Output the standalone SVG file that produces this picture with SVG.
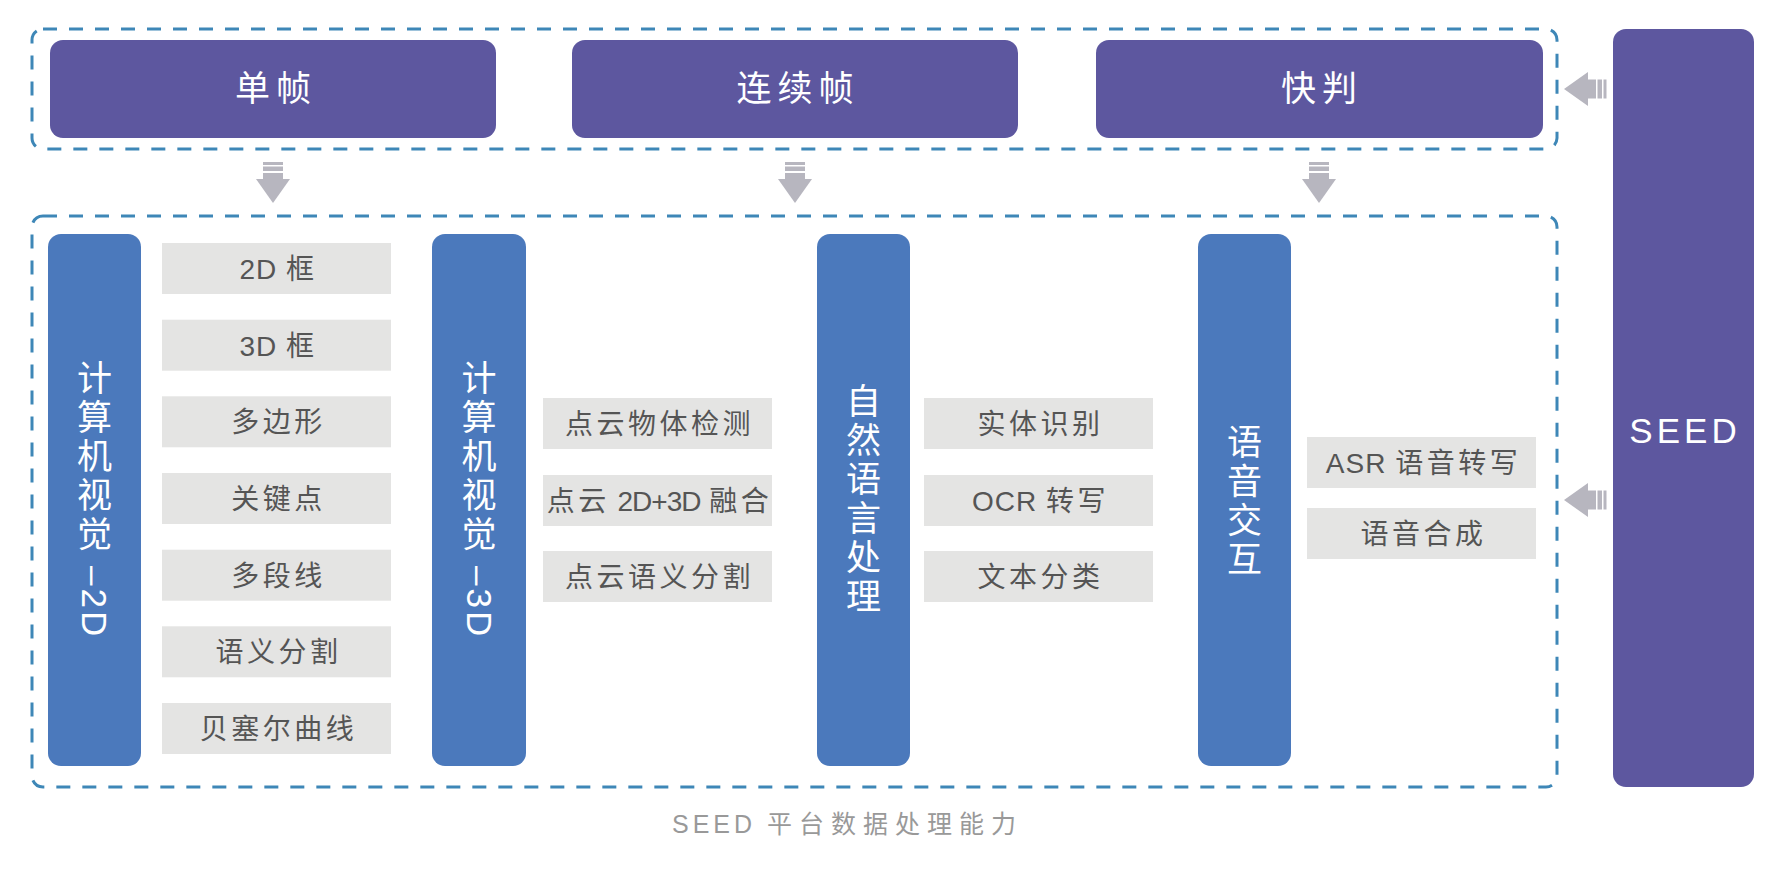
<svg xmlns="http://www.w3.org/2000/svg" width="1788" height="872" viewBox="0 0 1788 872">
<style>
.frame{fill:none;stroke:#3e87b7;stroke-width:3;stroke-dasharray:14 12}
.top{fill:#5d579f}
.col{fill:#4b79bc}
.item{fill:#e4e4e3}
.t-top{font-family:"Liberation Sans","Noto Sans CJK SC",sans-serif;font-size:35px;fill:#fff;letter-spacing:6px;text-anchor:middle}
.t-col{font-family:"Liberation Sans","Noto Sans CJK SC",sans-serif;font-size:35px;fill:#fff;text-anchor:middle}
.t-rot{font-family:"Liberation Sans","Noto Sans CJK SC",sans-serif;font-size:35px;fill:#fff;letter-spacing:3px}
.t-item{font-family:"Liberation Sans","Noto Sans CJK SC",sans-serif;font-size:28px;fill:#555;letter-spacing:3.5px;text-anchor:middle}
.lat{letter-spacing:1px}
.t-seed{font-family:"Liberation Sans",sans-serif;font-size:35px;fill:#fff;letter-spacing:4px;text-anchor:middle}
.t-cap{font-family:"Liberation Sans","Noto Sans CJK SC",sans-serif;font-size:25px;fill:#999;letter-spacing:7px}
.arr{fill:#b7b6bf}
</style>
<defs>
<g id="arrDown">
<rect x="-10" y="0" width="20" height="3"/>
<rect x="-10" y="4.5" width="20" height="4.5"/>
<rect x="-10" y="11" width="20" height="8"/>
<polygon points="-17,17 17,17 0,41"/>
</g>
<g id="arrLeft">
<polygon points="0,0 24,-17 24,17"/>
<rect x="23" y="-9.5" width="9" height="19"/>
<rect x="33.5" y="-9.5" width="4.5" height="19"/>
<rect x="39.5" y="-9.5" width="3" height="19"/>
</g>
</defs>
<rect width="1788" height="872" fill="#fff"/>

<g id="frames">
<rect class="frame" x="32" y="29" width="1525" height="120" rx="11"/>
<rect class="frame" x="32" y="216" width="1525" height="571" rx="11"/>
</g>

<g id="connectors" class="arr">
<use href="#arrDown" x="273" y="162"/>
<use href="#arrDown" x="795" y="162"/>
<use href="#arrDown" x="1319" y="162"/>
<use href="#arrLeft" x="1564" y="89"/>
<use href="#arrLeft" x="1564" y="500"/>
</g>

<g id="node-danzhen">
<rect class="top" x="50" y="40" width="446" height="98" rx="13"/>
<text class="t-top" x="276" y="101">单帧</text>
</g>
<g id="node-lianxuzhen">
<rect class="top" x="572" y="40" width="446" height="98" rx="13"/>
<text class="t-top" x="798" y="101">连续帧</text>
</g>
<g id="node-kuaipan">
<rect class="top" x="1096" y="40" width="447" height="98" rx="13"/>
<text class="t-top" x="1322" y="101">快判</text>
</g>

<g id="node-seed">
<rect class="top" x="1613" y="29" width="141" height="758" rx="13"/>
<text class="t-seed" x="1685" y="443">SEED</text>
</g>

<g id="node-cv2d">
<rect class="col" x="48" y="234" width="93" height="532" rx="13"/>
<text class="t-col"><tspan x="94.5" y="390.5">计</tspan><tspan x="94.5" y="429.5">算</tspan><tspan x="94.5" y="468.5">机</tspan><tspan x="94.5" y="507.5">视</tspan><tspan x="94.5" y="546.5">觉</tspan></text>
<text class="t-rot" transform="translate(94.5,566) rotate(90)" x="0" y="12.5">–2D</text>
</g>
<g id="node-cv3d">
<rect class="col" x="432" y="234" width="94" height="532" rx="13"/>
<text class="t-col"><tspan x="479" y="390.5">计</tspan><tspan x="479" y="429.5">算</tspan><tspan x="479" y="468.5">机</tspan><tspan x="479" y="507.5">视</tspan><tspan x="479" y="546.5">觉</tspan></text>
<text class="t-rot" transform="translate(479,566) rotate(90)" x="0" y="12.5">–3D</text>
</g>
<g id="node-nlp">
<rect class="col" x="817" y="234" width="93" height="532" rx="13"/>
<text class="t-col"><tspan x="863.5" y="413.5">自</tspan><tspan x="863.5" y="452.5">然</tspan><tspan x="863.5" y="491.5">语</tspan><tspan x="863.5" y="530.5">言</tspan><tspan x="863.5" y="569.5">处</tspan><tspan x="863.5" y="608.5">理</tspan></text>
</g>
<g id="node-voice">
<rect class="col" x="1198" y="234" width="93" height="532" rx="13"/>
<text class="t-col"><tspan x="1244.5" y="454.5">语</tspan><tspan x="1244.5" y="493.5">音</tspan><tspan x="1244.5" y="532.5">交</tspan><tspan x="1244.5" y="571.5">互</tspan></text>
</g>

<g id="items-cv2d">
<g id="item-2dbox"><rect class="item" x="162" y="243" width="229" height="51"/><text class="t-item" x="278.5" y="279"><tspan class="lat">2D </tspan>框</text></g>
<g id="item-3dbox"><rect class="item" x="162" y="319.7" width="229" height="51"/><text class="t-item" x="278.5" y="355.7"><tspan class="lat">3D </tspan>框</text></g>
<g id="item-polygon"><rect class="item" x="162" y="396.3" width="229" height="51"/><text class="t-item" x="278.5" y="432.3">多边形</text></g>
<g id="item-keypoint"><rect class="item" x="162" y="473" width="229" height="51"/><text class="t-item" x="278.5" y="509">关键点</text></g>
<g id="item-polyline"><rect class="item" x="162" y="549.7" width="229" height="51"/><text class="t-item" x="278.5" y="585.7">多段线</text></g>
<g id="item-semseg"><rect class="item" x="162" y="626.3" width="229" height="51"/><text class="t-item" x="278.5" y="662.3">语义分割</text></g>
<g id="item-bezier"><rect class="item" x="162" y="703" width="229" height="51"/><text class="t-item" x="278.5" y="739">贝塞尔曲线</text></g>
</g>

<g id="items-cv3d">
<g id="item-pcdet"><rect class="item" x="543" y="398" width="229" height="51"/><text class="t-item" x="659.5" y="434">点云物体检测</text></g>
<g id="item-pcfuse"><rect class="item" x="543" y="475" width="229" height="51"/><text class="t-item" x="659.5" y="511">点云<tspan style="letter-spacing:0"> </tspan><tspan style="letter-spacing:-1px">2D+3D</tspan><tspan style="letter-spacing:1px"> </tspan>融合</text></g>
<g id="item-pcseg"><rect class="item" x="543" y="551" width="229" height="51"/><text class="t-item" x="659.5" y="587">点云语义分割</text></g>
</g>

<g id="items-nlp">
<g id="item-ner"><rect class="item" x="924" y="398" width="229" height="51"/><text class="t-item" x="1040.5" y="434">实体识别</text></g>
<g id="item-ocr"><rect class="item" x="924" y="475" width="229" height="51"/><text class="t-item" x="1040.5" y="511"><tspan class="lat">OCR </tspan>转写</text></g>
<g id="item-textcls"><rect class="item" x="924" y="551" width="229" height="51"/><text class="t-item" x="1040.5" y="587">文本分类</text></g>
</g>

<g id="items-voice">
<g id="item-asr"><rect class="item" x="1307" y="437" width="229" height="51"/><text class="t-item" x="1423.5" y="473"><tspan class="lat">ASR </tspan>语音转写</text></g>
<g id="item-tts"><rect class="item" x="1307" y="508" width="229" height="51"/><text class="t-item" x="1423.5" y="544">语音合成</text></g>
</g>

<g id="caption">
<text class="t-cap" x="672" y="833"><tspan style="letter-spacing:4px">SEED </tspan>平台数据处理能力</text>
</g>
</svg>
